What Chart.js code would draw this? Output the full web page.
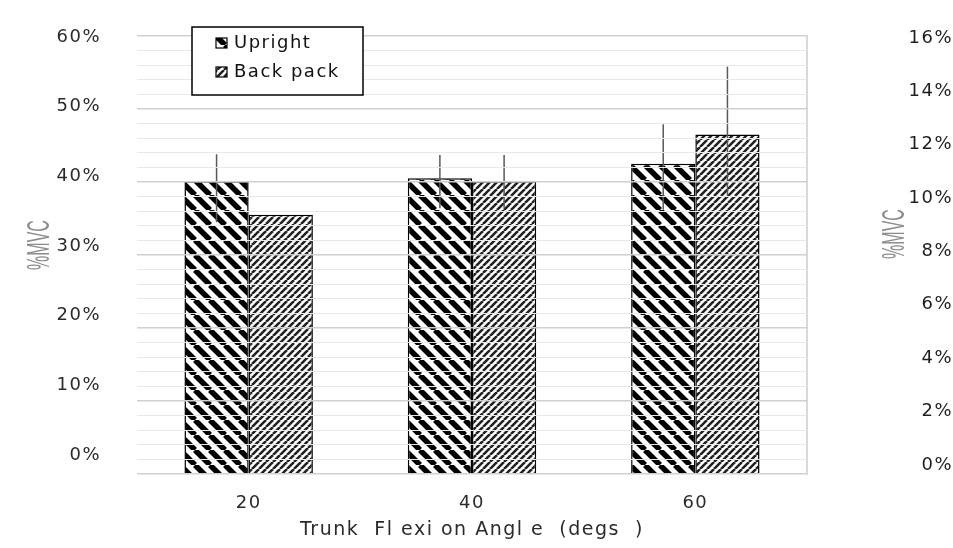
<!DOCTYPE html>
<html lang="en">
<head>
<meta charset="UTF-8">
<title>%MVC by trunk flexion angle</title>
<script src="https://cdn.jsdelivr.net/npm/chart.js"></script>
<style>
    body { margin: 0; background: #fff; }
    .container { width: 953px; height: 548px; }
</style>
</head>
<body>
<div class="container">
    <canvas id="grafico"></canvas>
</div>
<script>
    // values (% MVC)
    const angles = ['20', '40', '60']
    const upright = [40.1, 40.5, 42.5]
    const backpack = [35.5, 40.1, 46.5]
    // error bar ends
    const uprightHigh = [43.8, 43.7, 47.9]
    const uprightLow = [34.5, 36.4, 36.2]
    const backpackHigh = [null, 43.7, 55.8]
    const backpackLow = [null, 36.4, 38.0]
    // axis labels
    const leftTicks = [0, 10, 20, 30, 40, 50, 60]
    const rightTicks = [0, 2, 4, 6, 8, 10, 12, 14, 16]

    Chart.defaults.font.family = '"DejaVu Sans", sans-serif'

    function stripes(size, width, color, dir) {
        const c = document.createElement('canvas')
        c.width = size
        c.height = size
        const g = c.getContext('2d')
        g.fillStyle = '#fff'
        g.fillRect(0, 0, size, size)
        g.strokeStyle = color
        g.lineWidth = width
        g.beginPath()
        for (let k = -1; k <= 1; k++) {
            if (dir === '/') {
                g.moveTo(k * size, size)
                g.lineTo(k * size + size, 0)
            } else {
                g.moveTo(k * size, 0)
                g.lineTo(k * size + size, size)
            }
        }
        g.stroke()
        return g.createPattern(c, 'repeat')
    }

    const uprightFill = stripes(15, 5.5, '#000', '\\')
    const backpackFill = stripes(7, 2.6, '#222', '/')

    const spacing = {
        id: 'spacing',
        beforeLayout(chart) { chart.ctx.letterSpacing = '1.5px' },
        beforeDraw(chart) { chart.ctx.letterSpacing = '1.5px' }
    }

    const errorBars = {
        id: 'errorBars',
        afterDatasetsDraw(chart) {
            const ctx = chart.ctx
            const y = chart.scales.y
            const sets = [[uprightHigh, uprightLow], [backpackHigh, backpackLow]]
            ctx.save()
            ctx.strokeStyle = '#595959'
            ctx.lineWidth = 1.5
            sets.forEach(([hi, lo], i) => {
                chart.getDatasetMeta(i).data.forEach((bar, j) => {
                    if (hi[j] == null) return
                    ctx.beginPath()
                    ctx.moveTo(bar.x, y.getPixelForValue(hi[j]))
                    ctx.lineTo(bar.x, y.getPixelForValue(lo[j]))
                    ctx.stroke()
                })
            })
            ctx.restore()
        }
    }

    // squeezed grey "%MVC" titles on both sides
    const sideTitles = {
        id: 'sideTitles',
        afterDraw(chart) {
            const ctx = chart.ctx
            const area = chart.chartArea
            const spots = [[40, 245], [area.right + 88, 234]]
            ctx.save()
            ctx.letterSpacing = '0px'
            ctx.fillStyle = '#8c8c8c'
            ctx.font = '32px "Liberation Sans", sans-serif'
            ctx.textAlign = 'center'
            ctx.textBaseline = 'middle'
            spots.forEach(([x, y]) => {
                ctx.save()
                ctx.translate(x, y)
                ctx.rotate(-Math.PI / 2)
                ctx.scale(0.5, 1)
                ctx.fillText('%MVC', 0, 0)
                ctx.restore()
            })
            ctx.restore()
        }
    }

    const boxLegend = {
        id: 'boxLegend',
        afterDraw(chart) {
            const ctx = chart.ctx
            const x = chart.chartArea.left + 55, y = 27, w = 171, h = 68
            ctx.save()
            ctx.fillStyle = '#fff'
            ctx.fillRect(x, y, w, h)
            ctx.strokeStyle = '#000'
            ctx.lineWidth = 1.5
            ctx.strokeRect(x, y, w, h)
            ctx.font = '18px "DejaVu Sans", sans-serif'
            ctx.letterSpacing = '1.5px'
            ctx.textBaseline = 'middle'
            chart.data.datasets.forEach((ds, i) => {
                const cy = y + 16 + i * 29
                ctx.fillStyle = ds.backgroundColor
                ctx.fillRect(x + 24, cy - 5, 11, 10)
                ctx.lineWidth = 1.2
                ctx.strokeRect(x + 24, cy - 5, 11, 10)
                ctx.fillStyle = '#111'
                ctx.fillText(ds.label, x + 42, cy)
            })
            ctx.restore()
        }
    }

    new Chart(document.querySelector('#grafico'), {
        type: 'bar',
        data: {
            labels: angles,
            datasets: [{
                label: 'Upright',
                data: upright,
                backgroundColor: uprightFill,
                borderColor: '#000',
                borderWidth: 1.5,
                yAxisID: 'y'
            }, {
                label: 'Back pack',
                data: backpack,
                backgroundColor: backpackFill,
                borderColor: '#000',
                borderWidth: 1.5,
                yAxisID: 'y'
            }]
        },
        options: {
            responsive: true,
            maintainAspectRatio: false,
            animation: false,
            categoryPercentage: 0.575,
            barPercentage: 1,
            layout: { padding: { top: 36 } },
            plugins: {
                legend: { display: false },
                tooltip: { enabled: false }
            },
            scales: {
                x: {
                    grid: { display: false },
                    border: { display: false },
                    ticks: { color: '#2b2b2b', font: { size: 18 }, padding: 11 },
                    title: {
                        display: true,
                        text: 'Trunk  Fl exi on Angl e  (degs  )',
                        color: '#2b2b2b',
                        font: { size: 19 },
                        padding: { top: 4, bottom: 7 }
                    },
                    afterFit: s => { s.height = 74 }
                },
                // value axis: only draws the grid, on top of the bars
                y: {
                    position: 'left',
                    min: 0,
                    max: 60,
                    grid: {
                        z: 1,
                        drawTicks: false,
                        color: c => c.tick.value % 10 === 0 ? '#d0d0d0' : '#e9e9e9',
                        lineWidth: c => c.tick.value % 10 === 0 ? 1.6 : 1.1
                    },
                    border: { display: false },
                    ticks: { display: false, stepSize: 2 },
                    afterFit: s => { s.width = 28 }
                },
                yLabels: {
                    position: 'left',
                    min: -2.71,
                    max: 60.14,
                    grid: { display: false },
                    border: { display: false },
                    ticks: { color: '#2b2b2b', font: { size: 18 }, padding: 0, callback: v => v + '%' },
                    afterBuildTicks: s => { s.ticks = leftTicks.map(v => ({ value: v })) },
                    afterFit: s => { s.width = 109 }
                },
                yEdge: {
                    position: 'right',
                    min: 0,
                    max: 60,
                    grid: { display: false },
                    border: { display: true, color: '#d9d9d9', width: 2 },
                    ticks: { display: false },
                    afterFit: s => { s.width = 95 }
                },
                y2: {
                    position: 'right',
                    min: -0.34,
                    max: 16.07,
                    grid: { display: false },
                    border: { display: false },
                    ticks: { color: '#1f1f1f', font: { size: 18 }, padding: 1, crossAlign: 'far', callback: v => v + '%' },
                    afterBuildTicks: s => { s.ticks = rightTicks.map(v => ({ value: v })) },
                    afterFit: s => { s.width = 51 }
                }
            }
        },
        plugins: [spacing, errorBars, sideTitles, boxLegend]
    })
</script>
</body>
</html>
